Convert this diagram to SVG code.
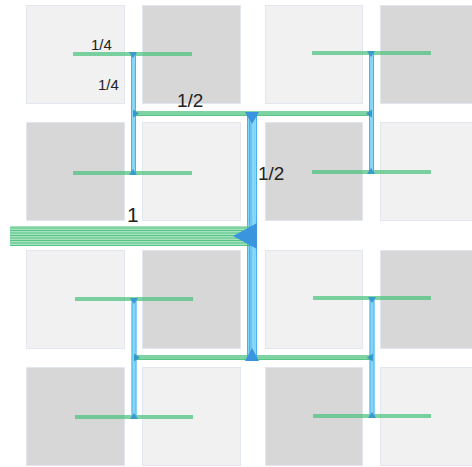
<svg xmlns="http://www.w3.org/2000/svg" width="472" height="467" viewBox="0 0 472 467">
<style>
.lt{fill:#f1f1f1;stroke:#e2e6ee;stroke-width:1}
.dk{fill:#d7d7d7;stroke:#e2e6ee;stroke-width:1}
.gb{fill:#5ecb8c;fill-opacity:0.55}
.gs{stroke:#2fb768;stroke-width:0.8;stroke-opacity:0.85;fill:none}
.bb{fill:#86d6f7}
.bs{stroke:#3aa8e6;stroke-width:0.8;fill:none}
.ar{fill:#3a95de}
.ars{fill:#2e8fd0;fill-opacity:0.85}
text{font-family:"Liberation Sans",Arial,sans-serif;fill:#222}
</style>
<g id="tiles">
<g id="t11"><rect class="lt" x="26.5" y="5.5" width="98" height="98"/></g>
<g id="t12"><rect class="dk" x="142.5" y="5.5" width="98" height="98"/></g>
<g id="t13"><rect class="lt" x="265.5" y="5.5" width="97" height="98"/></g>
<g id="t14"><rect class="dk" x="380.5" y="5.5" width="98" height="98"/></g>
<g id="t21"><rect class="dk" x="26.5" y="122.5" width="98" height="98"/></g>
<g id="t22"><rect class="lt" x="142.5" y="122.5" width="98" height="98"/></g>
<g id="t23"><rect class="dk" x="265.5" y="122.5" width="97" height="98"/></g>
<g id="t24"><rect class="lt" x="380.5" y="122.5" width="98" height="98"/></g>
<g id="t31"><rect class="lt" x="26.5" y="250.5" width="98" height="98"/></g>
<g id="t32"><rect class="dk" x="142.5" y="250.5" width="98" height="98"/></g>
<g id="t33"><rect class="lt" x="265.5" y="250.5" width="97" height="98"/></g>
<g id="t34"><rect class="dk" x="380.5" y="250.5" width="98" height="98"/></g>
<g id="t41"><rect class="dk" x="26.5" y="367.5" width="98" height="98"/></g>
<g id="t42"><rect class="lt" x="142.5" y="367.5" width="98" height="98"/></g>
<g id="t43"><rect class="dk" x="265.5" y="367.5" width="97" height="98"/></g>
<g id="t44"><rect class="lt" x="380.5" y="367.5" width="98" height="98"/></g>
</g>
<g id="connectors">
<rect class="gb" x="73" y="52" width="119" height="4"/><path class="gs" d="M73 53H192M73 55H192"/>
<rect class="gb" x="73" y="171" width="119" height="4"/><path class="gs" d="M73 172H192M73 174H192"/>
<rect class="gb" x="312" y="51" width="119" height="4"/><path class="gs" d="M312 52H431M312 54H431"/>
<rect class="gb" x="312" y="170" width="119" height="4"/><path class="gs" d="M312 171H431M312 173H431"/>
<rect class="gb" x="75" y="297" width="118" height="4"/><path class="gs" d="M75 298H193M75 300H193"/>
<rect class="gb" x="75" y="415" width="118" height="4"/><path class="gs" d="M75 416H193M75 418H193"/>
<rect class="gb" x="313" y="296" width="118" height="4"/><path class="gs" d="M313 297H431M313 299H431"/>
<rect class="gb" x="313" y="414" width="118" height="4"/><path class="gs" d="M313 415H431M313 417H431"/>
<rect class="bb" x="131" y="54" width="5" height="119"/><path class="bs" d="M131.5 54V173M135.5 54V173"/>
<rect class="bb" x="369" y="53" width="5" height="119"/><path class="bs" d="M369.5 53V172M373.5 53V172"/>
<rect class="bb" x="131.5" y="299" width="5" height="118"/><path class="bs" d="M132 299V417M136 299V417"/>
<rect class="bb" x="369.5" y="298" width="5" height="118"/><path class="bs" d="M370 298V416M374 298V416"/>
<rect class="gb" x="134" y="111" width="238" height="5"/><path class="gs" d="M134 112H372M134 114H372M134 115.5H372"/>
<rect class="gb" x="134" y="355" width="238" height="5"/><path class="gs" d="M134 356H372M134 358H372M134 359.5H372"/>
<rect class="bb" x="247" y="113" width="10" height="246"/><path class="bs" d="M247.5 113V359M249.5 113V359M251 113V359M256.5 113V359"/>
<rect class="gb" x="10" y="226" width="240" height="20"/><path class="gs" d="M10 228H250M10 230.5H250M10 233H250M10 235.5H250M10 238H250M10 240.5H250M10 243H250M10 245.5H250"/>
<path class="ar" d="M233 236L257 223V249Z"/>
<path class="ar" d="M245 112H259L252 124Z"/>
<path class="ar" d="M245 361H259L252 348Z"/>
<path class="ars" d="M129 52H137L133 58Z"/>
<path class="ars" d="M367 51H375L371 57Z"/>
<path class="ars" d="M130 298H138L134 304Z"/>
<path class="ars" d="M368 297H376L372 303Z"/>
<path class="ars" d="M129 175H137L133 169Z"/>
<path class="ars" d="M367 174H375L371 168Z"/>
<path class="ars" d="M130 419H138L134 413Z"/>
<path class="ars" d="M368 418H376L372 412Z"/>
<path class="ars" d="M133 109.5L139 113.5L133 117.5Z"/>
<path class="ars" d="M134 353.5L140 357.5L134 361.5Z"/>
<path class="ars" d="M372 109.5L366 113.5L372 117.5Z"/>
<path class="ars" d="M373 353.5L367 357.5L373 361.5Z"/>
</g>
<g id="labels">
<text x="91" y="50" font-size="15">1/4</text>
<text x="98" y="90" font-size="15">1/4</text>
<text x="177" y="107" font-size="19">1/2</text>
<text x="258" y="180" font-size="19">1/2</text>
<text x="127" y="222" font-size="21">1</text>
</g>
</svg>
